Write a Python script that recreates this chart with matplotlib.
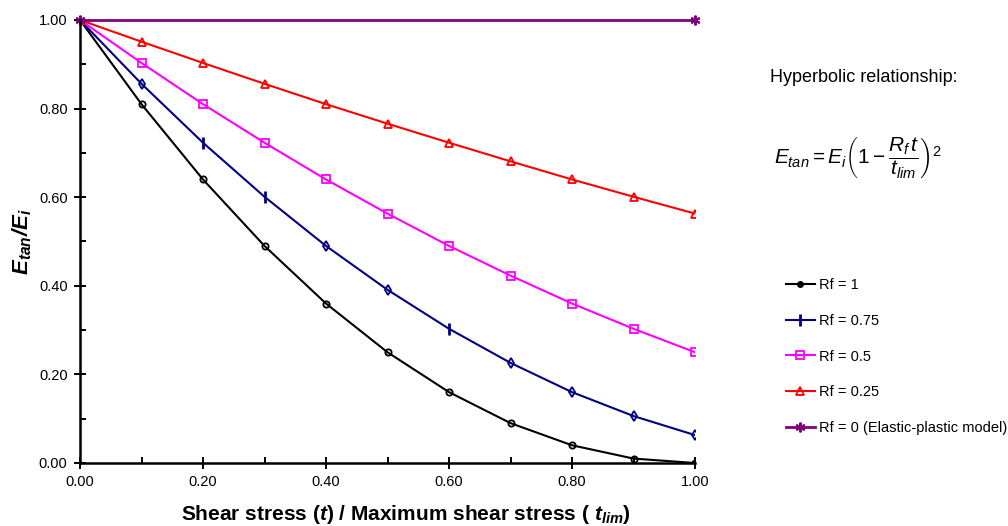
import matplotlib.pyplot as plt
from matplotlib.lines import Line2D
from matplotlib.ticker import MultipleLocator, FormatStrFormatter

plt.rcParams['font.family'] = ['Liberation Sans', 'DejaVu Sans']
plt.rcParams['mathtext.fontset'] = 'custom'
plt.rcParams['mathtext.rm'] = 'Liberation Sans'
plt.rcParams['mathtext.it'] = 'Liberation Sans:italic'
plt.rcParams['mathtext.bf'] = 'Liberation Sans:bold:italic'

# shear stress ratio t / t_lim
x = [0.0, 0.1, 0.2, 0.3, 0.4, 0.5, 0.6, 0.7, 0.8, 0.9, 1.0]

# E_tan / E_i
rf_100 = [1.00, 0.81, 0.64, 0.49, 0.36, 0.25, 0.16, 0.09, 0.04, 0.01, 0.00]
rf_075 = [1.00, 0.856, 0.723, 0.601, 0.490, 0.391, 0.303, 0.226, 0.160, 0.106, 0.063]
rf_050 = [1.00, 0.903, 0.810, 0.723, 0.640, 0.563, 0.490, 0.423, 0.360, 0.303, 0.250]
rf_025 = [1.00, 0.951, 0.903, 0.856, 0.810, 0.766, 0.723, 0.681, 0.640, 0.601, 0.563]
x_rf0 = [0.0, 1.0]
rf_000 = [1.00, 1.00]

labels = ['Rf = 1', 'Rf = 0.75', 'Rf = 0.5', 'Rf = 0.25',
          'Rf = 0 (Elastic-plastic model)']

# navy series switches between '|' and diamond markers in the original
navy_bar_idx = [2, 3, 6]
navy_dia_idx = [0, 1, 4, 5, 7, 8, 9, 10]

navy = '#000080'
purple = '#800080'

fig = plt.figure(figsize=(10.08, 5.26), dpi=100)
ax = fig.add_axes([80 / 1008, 1 - 463 / 526, 615 / 1008, 443 / 526])

lw = 1.5
ax.plot(x, rf_100, color='black', lw=lw, marker='o', ms=4.5,
        mfc='none', mew=1.3)
ax.plot(x, rf_075, color=navy, lw=lw, marker='d', ms=5, mfc='none',
        mew=1.3, markevery=navy_dia_idx)
ax.plot([x[i] for i in navy_bar_idx], [rf_075[i] for i in navy_bar_idx],
        ls='none', color=navy, marker='|', ms=9, mew=2)
ax.plot(x, rf_050, color='#FF00FF', lw=lw, marker='s', ms=6,
        mfc='none', mew=1.3)
ax.plot(x, rf_025, color='#FF0000', lw=lw, marker='^', ms=6,
        mfc='none', mew=1.3)
ax.plot(x_rf0, rf_000, color=purple, lw=2, marker=(6, 2, 0), ms=7, mew=1.5,
        clip_on=False)

ax.set_xlim(0, 1)
ax.set_ylim(0, 1)
ax.xaxis.set_major_locator(MultipleLocator(0.2))
ax.xaxis.set_minor_locator(MultipleLocator(0.1))
ax.yaxis.set_major_locator(MultipleLocator(0.2))
ax.yaxis.set_minor_locator(MultipleLocator(0.1))
ax.xaxis.set_major_formatter(FormatStrFormatter('%.2f'))
ax.yaxis.set_major_formatter(FormatStrFormatter('%.2f'))
ax.tick_params(which='major', direction='inout', length=8, width=1.4,
               labelsize=10.5, pad=5)
ax.tick_params(which='minor', direction='in', length=4, width=1.4)
ax.spines['top'].set_visible(False)
ax.spines['right'].set_visible(False)
for s in ['left', 'bottom']:
    ax.spines[s].set_linewidth(1.8)

ax.set_xlabel(r'Shear stress ($\mathbf{t}$) / Maximum shear stress ( $\mathbf{t}_{\mathbf{lim}}$)',
              fontsize=15, fontweight='bold')
ax.xaxis.set_label_coords((406 - 80) / 615, (463 - 514) / 443, transform=ax.transAxes)
ax.xaxis.label.set_va('center')
ax.set_ylabel(r'$\mathbf{E}_{\mathbf{tan}}\mathbf{/E}_{\mathbf{i}}$', fontsize=16)
ax.yaxis.set_label_coords((22 - 80) / 615, 0.5, transform=ax.transAxes)
ax.yaxis.label.set_va('center')

fig.text(864 / 1008, 1 - 78 / 526, 'Hyperbolic relationship:', fontsize=13,
         ha='center', va='center')
fig.text(858 / 1008, 1 - 158 / 526,
         r'$E_{tan} = E_i\left(1 - \dfrac{R_f\,t}{t_{lim}}\right)^2$',
         fontsize=15, ha='center', va='center')

handles = [
    Line2D([], [], color='black', lw=lw, marker='o', ms=4),
    Line2D([], [], color=navy, lw=lw, marker='|', ms=9, mew=2),
    Line2D([], [], color='#FF00FF', lw=lw, marker='s', ms=6, mfc='none', mew=1.3),
    Line2D([], [], color='#FF0000', lw=lw, marker='^', ms=6, mfc='none', mew=1.3),
    Line2D([], [], color=purple, lw=2, marker=(6, 2, 0), ms=7, mew=1.5),
]
fig.legend(handles=handles, labels=labels, loc='upper left',
           bbox_to_anchor=(780 / 1008, 1 - 272 / 526), frameon=False,
           fontsize=10.5, labelspacing=1.5, handlelength=2.0,
           handletextpad=0.3, borderaxespad=0)

fig.savefig('out.png', dpi=100)
